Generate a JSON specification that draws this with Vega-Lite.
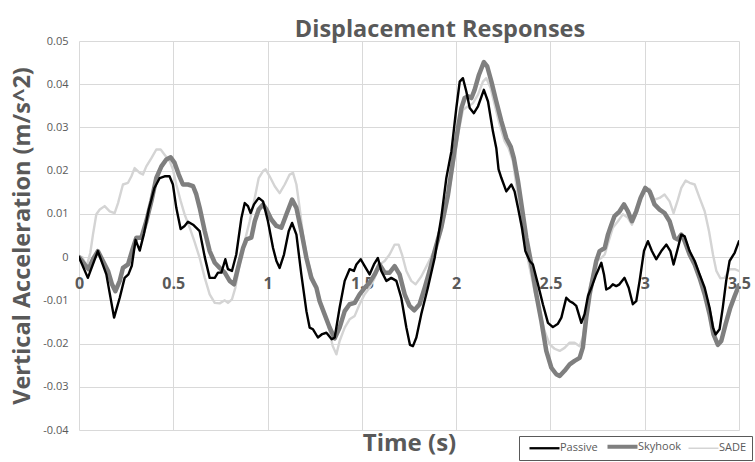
{
  "$schema": "https://vega.github.io/schema/vega-lite/v6.json",
  "width": 660,
  "height": 389,
  "autosize": "none",
  "padding": {"left": 79, "top": 41, "right": 16, "bottom": 32},
  "background": "#ffffff",
  "config": {
    "font": "Open Sans",
    "view": {"stroke": null}
  },
  "title": {
    "text": "Displacement Responses",
    "fontSize": 23.5,
    "fontWeight": "bold",
    "color": "#595959",
    "anchor": "middle",
    "dx": 31,
    "offset": -6
  },
  "data": {
    "values": [
      {"t": 0, "v": 0.0002, "s": "SADE"},
      {"t": 0.018, "v": 0, "s": "SADE"},
      {"t": 0.04, "v": -0.0022, "s": "SADE"},
      {"t": 0.06, "v": 0.001, "s": "SADE"},
      {"t": 0.074, "v": 0.0052, "s": "SADE"},
      {"t": 0.092, "v": 0.0099, "s": "SADE"},
      {"t": 0.11, "v": 0.011, "s": "SADE"},
      {"t": 0.136, "v": 0.0118, "s": "SADE"},
      {"t": 0.163, "v": 0.0106, "s": "SADE"},
      {"t": 0.189, "v": 0.0102, "s": "SADE"},
      {"t": 0.207, "v": 0.0125, "s": "SADE"},
      {"t": 0.233, "v": 0.0168, "s": "SADE"},
      {"t": 0.26, "v": 0.0172, "s": "SADE"},
      {"t": 0.278, "v": 0.0187, "s": "SADE"},
      {"t": 0.295, "v": 0.0206, "s": "SADE"},
      {"t": 0.322, "v": 0.0195, "s": "SADE"},
      {"t": 0.339, "v": 0.0191, "s": "SADE"},
      {"t": 0.357, "v": 0.021, "s": "SADE"},
      {"t": 0.384, "v": 0.0229, "s": "SADE"},
      {"t": 0.41, "v": 0.0249, "s": "SADE"},
      {"t": 0.433, "v": 0.0249, "s": "SADE"},
      {"t": 0.454, "v": 0.0237, "s": "SADE"},
      {"t": 0.481, "v": 0.0222, "s": "SADE"},
      {"t": 0.498, "v": 0.0203, "s": "SADE"},
      {"t": 0.516, "v": 0.0168, "s": "SADE"},
      {"t": 0.539, "v": 0.013, "s": "SADE"},
      {"t": 0.56, "v": 0.0099, "s": "SADE"},
      {"t": 0.587, "v": 0.0068, "s": "SADE"},
      {"t": 0.613, "v": 0.0035, "s": "SADE"},
      {"t": 0.64, "v": -0.0002, "s": "SADE"},
      {"t": 0.667, "v": -0.0048, "s": "SADE"},
      {"t": 0.693, "v": -0.0086, "s": "SADE"},
      {"t": 0.72, "v": -0.0106, "s": "SADE"},
      {"t": 0.746, "v": -0.0107, "s": "SADE"},
      {"t": 0.773, "v": -0.01, "s": "SADE"},
      {"t": 0.79, "v": -0.0106, "s": "SADE"},
      {"t": 0.811, "v": -0.0098, "s": "SADE"},
      {"t": 0.829, "v": -0.0071, "s": "SADE"},
      {"t": 0.852, "v": -0.0017, "s": "SADE"},
      {"t": 0.879, "v": 0.0037, "s": "SADE"},
      {"t": 0.905, "v": 0.0083, "s": "SADE"},
      {"t": 0.932, "v": 0.0137, "s": "SADE"},
      {"t": 0.953, "v": 0.0183, "s": "SADE"},
      {"t": 0.976, "v": 0.0199, "s": "SADE"},
      {"t": 0.99, "v": 0.0203, "s": "SADE"},
      {"t": 1.011, "v": 0.0187, "s": "SADE"},
      {"t": 1.038, "v": 0.0164, "s": "SADE"},
      {"t": 1.064, "v": 0.0148, "s": "SADE"},
      {"t": 1.091, "v": 0.0168, "s": "SADE"},
      {"t": 1.117, "v": 0.0191, "s": "SADE"},
      {"t": 1.135, "v": 0.0195, "s": "SADE"},
      {"t": 1.153, "v": 0.0168, "s": "SADE"},
      {"t": 1.17, "v": 0.0114, "s": "SADE"},
      {"t": 1.188, "v": 0.0052, "s": "SADE"},
      {"t": 1.206, "v": 0.0006, "s": "SADE"},
      {"t": 1.232, "v": -0.004, "s": "SADE"},
      {"t": 1.259, "v": -0.0071, "s": "SADE"},
      {"t": 1.285, "v": -0.0109, "s": "SADE"},
      {"t": 1.32, "v": -0.0155, "s": "SADE"},
      {"t": 1.345, "v": -0.0205, "s": "SADE"},
      {"t": 1.365, "v": -0.0225, "s": "SADE"},
      {"t": 1.382, "v": -0.0194, "s": "SADE"},
      {"t": 1.409, "v": -0.0163, "s": "SADE"},
      {"t": 1.435, "v": -0.0144, "s": "SADE"},
      {"t": 1.462, "v": -0.0136, "s": "SADE"},
      {"t": 1.488, "v": -0.0109, "s": "SADE"},
      {"t": 1.515, "v": -0.0086, "s": "SADE"},
      {"t": 1.541, "v": -0.0071, "s": "SADE"},
      {"t": 1.568, "v": -0.0048, "s": "SADE"},
      {"t": 1.594, "v": -0.0017, "s": "SADE"},
      {"t": 1.621, "v": -0.0009, "s": "SADE"},
      {"t": 1.647, "v": 0.0006, "s": "SADE"},
      {"t": 1.674, "v": 0.0029, "s": "SADE"},
      {"t": 1.695, "v": 0.0029, "s": "SADE"},
      {"t": 1.713, "v": 0.0006, "s": "SADE"},
      {"t": 1.736, "v": -0.0032, "s": "SADE"},
      {"t": 1.762, "v": -0.0055, "s": "SADE"},
      {"t": 1.785, "v": -0.0063, "s": "SADE"},
      {"t": 1.815, "v": -0.0045, "s": "SADE"},
      {"t": 1.842, "v": -0.0022, "s": "SADE"},
      {"t": 1.869, "v": 0.0002, "s": "SADE"},
      {"t": 1.895, "v": 0.0025, "s": "SADE"},
      {"t": 1.921, "v": 0.006, "s": "SADE"},
      {"t": 1.957, "v": 0.0137, "s": "SADE"},
      {"t": 1.983, "v": 0.0206, "s": "SADE"},
      {"t": 2.01, "v": 0.0283, "s": "SADE"},
      {"t": 2.036, "v": 0.0341, "s": "SADE"},
      {"t": 2.063, "v": 0.0349, "s": "SADE"},
      {"t": 2.089, "v": 0.0356, "s": "SADE"},
      {"t": 2.116, "v": 0.0376, "s": "SADE"},
      {"t": 2.142, "v": 0.0406, "s": "SADE"},
      {"t": 2.16, "v": 0.0414, "s": "SADE"},
      {"t": 2.183, "v": 0.0391, "s": "SADE"},
      {"t": 2.204, "v": 0.0353, "s": "SADE"},
      {"t": 2.231, "v": 0.0306, "s": "SADE"},
      {"t": 2.257, "v": 0.0268, "s": "SADE"},
      {"t": 2.278, "v": 0.0252, "s": "SADE"},
      {"t": 2.301, "v": 0.0222, "s": "SADE"},
      {"t": 2.324, "v": 0.0152, "s": "SADE"},
      {"t": 2.345, "v": 0.0075, "s": "SADE"},
      {"t": 2.367, "v": 0.0021, "s": "SADE"},
      {"t": 2.39, "v": -0.0025, "s": "SADE"},
      {"t": 2.416, "v": -0.0079, "s": "SADE"},
      {"t": 2.443, "v": -0.0125, "s": "SADE"},
      {"t": 2.469, "v": -0.0171, "s": "SADE"},
      {"t": 2.496, "v": -0.0202, "s": "SADE"},
      {"t": 2.522, "v": -0.0212, "s": "SADE"},
      {"t": 2.549, "v": -0.0217, "s": "SADE"},
      {"t": 2.575, "v": -0.021, "s": "SADE"},
      {"t": 2.602, "v": -0.0198, "s": "SADE"},
      {"t": 2.628, "v": -0.0198, "s": "SADE"},
      {"t": 2.655, "v": -0.0206, "s": "SADE"},
      {"t": 2.672, "v": -0.0186, "s": "SADE"},
      {"t": 2.69, "v": -0.0132, "s": "SADE"},
      {"t": 2.708, "v": -0.0071, "s": "SADE"},
      {"t": 2.725, "v": -0.004, "s": "SADE"},
      {"t": 2.743, "v": -0.0009, "s": "SADE"},
      {"t": 2.77, "v": -0.0002, "s": "SADE"},
      {"t": 2.788, "v": 0.0006, "s": "SADE"},
      {"t": 2.809, "v": 0.0037, "s": "SADE"},
      {"t": 2.831, "v": 0.0068, "s": "SADE"},
      {"t": 2.858, "v": 0.0083, "s": "SADE"},
      {"t": 2.884, "v": 0.0099, "s": "SADE"},
      {"t": 2.911, "v": 0.0091, "s": "SADE"},
      {"t": 2.932, "v": 0.0075, "s": "SADE"},
      {"t": 2.955, "v": 0.0099, "s": "SADE"},
      {"t": 2.978, "v": 0.0133, "s": "SADE"},
      {"t": 3.003, "v": 0.0156, "s": "SADE"},
      {"t": 3.026, "v": 0.0158, "s": "SADE"},
      {"t": 3.052, "v": 0.0133, "s": "SADE"},
      {"t": 3.079, "v": 0.0137, "s": "SADE"},
      {"t": 3.105, "v": 0.0145, "s": "SADE"},
      {"t": 3.132, "v": 0.0129, "s": "SADE"},
      {"t": 3.153, "v": 0.0102, "s": "SADE"},
      {"t": 3.176, "v": 0.0133, "s": "SADE"},
      {"t": 3.194, "v": 0.016, "s": "SADE"},
      {"t": 3.217, "v": 0.0177, "s": "SADE"},
      {"t": 3.238, "v": 0.0172, "s": "SADE"},
      {"t": 3.265, "v": 0.0168, "s": "SADE"},
      {"t": 3.291, "v": 0.0137, "s": "SADE"},
      {"t": 3.318, "v": 0.0106, "s": "SADE"},
      {"t": 3.341, "v": 0.006, "s": "SADE"},
      {"t": 3.362, "v": 0.0006, "s": "SADE"},
      {"t": 3.38, "v": -0.0032, "s": "SADE"},
      {"t": 3.401, "v": -0.0049, "s": "SADE"},
      {"t": 3.424, "v": -0.0048, "s": "SADE"},
      {"t": 3.45, "v": -0.0028, "s": "SADE"},
      {"t": 3.477, "v": -0.0028, "s": "SADE"},
      {"t": 3.5, "v": -0.0032, "s": "SADE"},

      {"t": 0, "v": 0, "s": "Skyhook"},
      {"t": 0.03, "v": -0.0017, "s": "Skyhook"},
      {"t": 0.051, "v": -0.0028, "s": "Skyhook"},
      {"t": 0.074, "v": -0.0005, "s": "Skyhook"},
      {"t": 0.1, "v": 0.0014, "s": "Skyhook"},
      {"t": 0.127, "v": -0.0009, "s": "Skyhook"},
      {"t": 0.154, "v": -0.0032, "s": "Skyhook"},
      {"t": 0.175, "v": -0.0063, "s": "Skyhook"},
      {"t": 0.193, "v": -0.0079, "s": "Skyhook"},
      {"t": 0.216, "v": -0.0055, "s": "Skyhook"},
      {"t": 0.233, "v": -0.0025, "s": "Skyhook"},
      {"t": 0.26, "v": -0.0017, "s": "Skyhook"},
      {"t": 0.281, "v": 0.0014, "s": "Skyhook"},
      {"t": 0.304, "v": 0.0045, "s": "Skyhook"},
      {"t": 0.331, "v": 0.0045, "s": "Skyhook"},
      {"t": 0.357, "v": 0.0083, "s": "Skyhook"},
      {"t": 0.384, "v": 0.013, "s": "Skyhook"},
      {"t": 0.41, "v": 0.0183, "s": "Skyhook"},
      {"t": 0.437, "v": 0.021, "s": "Skyhook"},
      {"t": 0.463, "v": 0.0226, "s": "Skyhook"},
      {"t": 0.486, "v": 0.0231, "s": "Skyhook"},
      {"t": 0.507, "v": 0.0218, "s": "Skyhook"},
      {"t": 0.529, "v": 0.0191, "s": "Skyhook"},
      {"t": 0.551, "v": 0.0168, "s": "Skyhook"},
      {"t": 0.578, "v": 0.0168, "s": "Skyhook"},
      {"t": 0.605, "v": 0.0164, "s": "Skyhook"},
      {"t": 0.622, "v": 0.0145, "s": "Skyhook"},
      {"t": 0.64, "v": 0.0114, "s": "Skyhook"},
      {"t": 0.667, "v": 0.006, "s": "Skyhook"},
      {"t": 0.693, "v": 0.0014, "s": "Skyhook"},
      {"t": 0.72, "v": -0.0013, "s": "Skyhook"},
      {"t": 0.746, "v": -0.0025, "s": "Skyhook"},
      {"t": 0.773, "v": -0.0036, "s": "Skyhook"},
      {"t": 0.799, "v": -0.0055, "s": "Skyhook"},
      {"t": 0.822, "v": -0.0063, "s": "Skyhook"},
      {"t": 0.843, "v": -0.0025, "s": "Skyhook"},
      {"t": 0.87, "v": 0.0021, "s": "Skyhook"},
      {"t": 0.888, "v": 0.0041, "s": "Skyhook"},
      {"t": 0.914, "v": 0.0045, "s": "Skyhook"},
      {"t": 0.932, "v": 0.0083, "s": "Skyhook"},
      {"t": 0.953, "v": 0.011, "s": "Skyhook"},
      {"t": 0.976, "v": 0.0122, "s": "Skyhook"},
      {"t": 0.994, "v": 0.011, "s": "Skyhook"},
      {"t": 1.02, "v": 0.0087, "s": "Skyhook"},
      {"t": 1.047, "v": 0.0072, "s": "Skyhook"},
      {"t": 1.073, "v": 0.0068, "s": "Skyhook"},
      {"t": 1.1, "v": 0.0099, "s": "Skyhook"},
      {"t": 1.13, "v": 0.0133, "s": "Skyhook"},
      {"t": 1.153, "v": 0.0114, "s": "Skyhook"},
      {"t": 1.179, "v": 0.006, "s": "Skyhook"},
      {"t": 1.206, "v": -0.0002, "s": "Skyhook"},
      {"t": 1.232, "v": -0.0048, "s": "Skyhook"},
      {"t": 1.259, "v": -0.0071, "s": "Skyhook"},
      {"t": 1.276, "v": -0.0102, "s": "Skyhook"},
      {"t": 1.302, "v": -0.0132, "s": "Skyhook"},
      {"t": 1.329, "v": -0.0163, "s": "Skyhook"},
      {"t": 1.356, "v": -0.0188, "s": "Skyhook"},
      {"t": 1.382, "v": -0.0163, "s": "Skyhook"},
      {"t": 1.409, "v": -0.0125, "s": "Skyhook"},
      {"t": 1.435, "v": -0.0109, "s": "Skyhook"},
      {"t": 1.462, "v": -0.0106, "s": "Skyhook"},
      {"t": 1.488, "v": -0.0086, "s": "Skyhook"},
      {"t": 1.515, "v": -0.0071, "s": "Skyhook"},
      {"t": 1.541, "v": -0.0059, "s": "Skyhook"},
      {"t": 1.568, "v": -0.004, "s": "Skyhook"},
      {"t": 1.594, "v": -0.0017, "s": "Skyhook"},
      {"t": 1.621, "v": -0.0036, "s": "Skyhook"},
      {"t": 1.647, "v": -0.0036, "s": "Skyhook"},
      {"t": 1.674, "v": -0.0021, "s": "Skyhook"},
      {"t": 1.7, "v": -0.004, "s": "Skyhook"},
      {"t": 1.727, "v": -0.0086, "s": "Skyhook"},
      {"t": 1.753, "v": -0.0113, "s": "Skyhook"},
      {"t": 1.778, "v": -0.0123, "s": "Skyhook"},
      {"t": 1.806, "v": -0.0109, "s": "Skyhook"},
      {"t": 1.833, "v": -0.0071, "s": "Skyhook"},
      {"t": 1.859, "v": -0.0032, "s": "Skyhook"},
      {"t": 1.886, "v": 0.0014, "s": "Skyhook"},
      {"t": 1.921, "v": 0.0068, "s": "Skyhook"},
      {"t": 1.957, "v": 0.0145, "s": "Skyhook"},
      {"t": 1.983, "v": 0.0222, "s": "Skyhook"},
      {"t": 2.01, "v": 0.0299, "s": "Skyhook"},
      {"t": 2.028, "v": 0.0345, "s": "Skyhook"},
      {"t": 2.045, "v": 0.0368, "s": "Skyhook"},
      {"t": 2.063, "v": 0.0372, "s": "Skyhook"},
      {"t": 2.081, "v": 0.0368, "s": "Skyhook"},
      {"t": 2.098, "v": 0.0387, "s": "Skyhook"},
      {"t": 2.121, "v": 0.0422, "s": "Skyhook"},
      {"t": 2.147, "v": 0.0451, "s": "Skyhook"},
      {"t": 2.165, "v": 0.0441, "s": "Skyhook"},
      {"t": 2.187, "v": 0.0406, "s": "Skyhook"},
      {"t": 2.213, "v": 0.036, "s": "Skyhook"},
      {"t": 2.24, "v": 0.0314, "s": "Skyhook"},
      {"t": 2.266, "v": 0.0275, "s": "Skyhook"},
      {"t": 2.289, "v": 0.0256, "s": "Skyhook"},
      {"t": 2.306, "v": 0.0229, "s": "Skyhook"},
      {"t": 2.328, "v": 0.0176, "s": "Skyhook"},
      {"t": 2.349, "v": 0.0114, "s": "Skyhook"},
      {"t": 2.372, "v": 0.0045, "s": "Skyhook"},
      {"t": 2.399, "v": -0.0017, "s": "Skyhook"},
      {"t": 2.425, "v": -0.0086, "s": "Skyhook"},
      {"t": 2.452, "v": -0.0148, "s": "Skyhook"},
      {"t": 2.478, "v": -0.0217, "s": "Skyhook"},
      {"t": 2.505, "v": -0.0256, "s": "Skyhook"},
      {"t": 2.531, "v": -0.0271, "s": "Skyhook"},
      {"t": 2.549, "v": -0.0275, "s": "Skyhook"},
      {"t": 2.575, "v": -0.0263, "s": "Skyhook"},
      {"t": 2.602, "v": -0.0248, "s": "Skyhook"},
      {"t": 2.628, "v": -0.024, "s": "Skyhook"},
      {"t": 2.655, "v": -0.0233, "s": "Skyhook"},
      {"t": 2.672, "v": -0.0209, "s": "Skyhook"},
      {"t": 2.69, "v": -0.014, "s": "Skyhook"},
      {"t": 2.708, "v": -0.0086, "s": "Skyhook"},
      {"t": 2.725, "v": -0.0048, "s": "Skyhook"},
      {"t": 2.743, "v": -0.0009, "s": "Skyhook"},
      {"t": 2.761, "v": 0.0014, "s": "Skyhook"},
      {"t": 2.788, "v": 0.0021, "s": "Skyhook"},
      {"t": 2.805, "v": 0.0052, "s": "Skyhook"},
      {"t": 2.823, "v": 0.0075, "s": "Skyhook"},
      {"t": 2.84, "v": 0.0095, "s": "Skyhook"},
      {"t": 2.867, "v": 0.0106, "s": "Skyhook"},
      {"t": 2.89, "v": 0.0122, "s": "Skyhook"},
      {"t": 2.911, "v": 0.0106, "s": "Skyhook"},
      {"t": 2.932, "v": 0.0083, "s": "Skyhook"},
      {"t": 2.955, "v": 0.0106, "s": "Skyhook"},
      {"t": 2.978, "v": 0.0137, "s": "Skyhook"},
      {"t": 3.003, "v": 0.016, "s": "Skyhook"},
      {"t": 3.026, "v": 0.0152, "s": "Skyhook"},
      {"t": 3.052, "v": 0.0122, "s": "Skyhook"},
      {"t": 3.079, "v": 0.011, "s": "Skyhook"},
      {"t": 3.105, "v": 0.0102, "s": "Skyhook"},
      {"t": 3.132, "v": 0.0083, "s": "Skyhook"},
      {"t": 3.158, "v": 0.0045, "s": "Skyhook"},
      {"t": 3.176, "v": 0.0041, "s": "Skyhook"},
      {"t": 3.194, "v": 0.0052, "s": "Skyhook"},
      {"t": 3.212, "v": 0.0037, "s": "Skyhook"},
      {"t": 3.238, "v": 0.0006, "s": "Skyhook"},
      {"t": 3.265, "v": -0.0017, "s": "Skyhook"},
      {"t": 3.291, "v": -0.0048, "s": "Skyhook"},
      {"t": 3.318, "v": -0.0086, "s": "Skyhook"},
      {"t": 3.344, "v": -0.0132, "s": "Skyhook"},
      {"t": 3.365, "v": -0.0179, "s": "Skyhook"},
      {"t": 3.388, "v": -0.0203, "s": "Skyhook"},
      {"t": 3.406, "v": -0.0194, "s": "Skyhook"},
      {"t": 3.429, "v": -0.0155, "s": "Skyhook"},
      {"t": 3.454, "v": -0.0117, "s": "Skyhook"},
      {"t": 3.477, "v": -0.009, "s": "Skyhook"},
      {"t": 3.5, "v": -0.0065, "s": "Skyhook"},

      {"t": 0, "v": 0, "s": "Passive"},
      {"t": 0.047, "v": -0.0048, "s": "Passive"},
      {"t": 0.1, "v": 0.0014, "s": "Passive"},
      {"t": 0.145, "v": -0.004, "s": "Passive"},
      {"t": 0.186, "v": -0.014, "s": "Passive"},
      {"t": 0.216, "v": -0.0094, "s": "Passive"},
      {"t": 0.242, "v": -0.0048, "s": "Passive"},
      {"t": 0.262, "v": -0.004, "s": "Passive"},
      {"t": 0.28, "v": -0.002, "s": "Passive"},
      {"t": 0.3, "v": 0.004, "s": "Passive"},
      {"t": 0.322, "v": 0.0015, "s": "Passive"},
      {"t": 0.345, "v": 0.0055, "s": "Passive"},
      {"t": 0.37, "v": 0.011, "s": "Passive"},
      {"t": 0.4, "v": 0.016, "s": "Passive"},
      {"t": 0.428, "v": 0.0183, "s": "Passive"},
      {"t": 0.454, "v": 0.0187, "s": "Passive"},
      {"t": 0.48, "v": 0.0187, "s": "Passive"},
      {"t": 0.498, "v": 0.0168, "s": "Passive"},
      {"t": 0.516, "v": 0.0114, "s": "Passive"},
      {"t": 0.539, "v": 0.0065, "s": "Passive"},
      {"t": 0.56, "v": 0.0072, "s": "Passive"},
      {"t": 0.578, "v": 0.0082, "s": "Passive"},
      {"t": 0.605, "v": 0.0075, "s": "Passive"},
      {"t": 0.64, "v": 0.006, "s": "Passive"},
      {"t": 0.667, "v": 0, "s": "Passive"},
      {"t": 0.693, "v": -0.0048, "s": "Passive"},
      {"t": 0.72, "v": -0.0048, "s": "Passive"},
      {"t": 0.737, "v": -0.0036, "s": "Passive"},
      {"t": 0.755, "v": -0.0036, "s": "Passive"},
      {"t": 0.776, "v": -0.0005, "s": "Passive"},
      {"t": 0.79, "v": -0.0028, "s": "Passive"},
      {"t": 0.811, "v": -0.0032, "s": "Passive"},
      {"t": 0.834, "v": 0.0006, "s": "Passive"},
      {"t": 0.861, "v": 0.009, "s": "Passive"},
      {"t": 0.879, "v": 0.0125, "s": "Passive"},
      {"t": 0.896, "v": 0.0118, "s": "Passive"},
      {"t": 0.91, "v": 0.0102, "s": "Passive"},
      {"t": 0.928, "v": 0.0122, "s": "Passive"},
      {"t": 0.953, "v": 0.0137, "s": "Passive"},
      {"t": 0.976, "v": 0.0129, "s": "Passive"},
      {"t": 1.002, "v": 0.0083, "s": "Passive"},
      {"t": 1.029, "v": 0.0021, "s": "Passive"},
      {"t": 1.047, "v": -0.0009, "s": "Passive"},
      {"t": 1.064, "v": -0.0025, "s": "Passive"},
      {"t": 1.087, "v": 0.0006, "s": "Passive"},
      {"t": 1.112, "v": 0.006, "s": "Passive"},
      {"t": 1.13, "v": 0.0079, "s": "Passive"},
      {"t": 1.153, "v": 0.0052, "s": "Passive"},
      {"t": 1.179, "v": -0.004, "s": "Passive"},
      {"t": 1.206, "v": -0.0125, "s": "Passive"},
      {"t": 1.223, "v": -0.0163, "s": "Passive"},
      {"t": 1.241, "v": -0.0167, "s": "Passive"},
      {"t": 1.267, "v": -0.0186, "s": "Passive"},
      {"t": 1.29, "v": -0.0178, "s": "Passive"},
      {"t": 1.312, "v": -0.0175, "s": "Passive"},
      {"t": 1.34, "v": -0.019, "s": "Passive"},
      {"t": 1.356, "v": -0.0186, "s": "Passive"},
      {"t": 1.382, "v": -0.0117, "s": "Passive"},
      {"t": 1.409, "v": -0.0055, "s": "Passive"},
      {"t": 1.435, "v": -0.0028, "s": "Passive"},
      {"t": 1.458, "v": -0.0032, "s": "Passive"},
      {"t": 1.471, "v": -0.0017, "s": "Passive"},
      {"t": 1.494, "v": -0.0005, "s": "Passive"},
      {"t": 1.515, "v": -0.0021, "s": "Passive"},
      {"t": 1.541, "v": -0.004, "s": "Passive"},
      {"t": 1.564, "v": -0.0017, "s": "Passive"},
      {"t": 1.585, "v": -0.0002, "s": "Passive"},
      {"t": 1.603, "v": -0.0032, "s": "Passive"},
      {"t": 1.63, "v": -0.0055, "s": "Passive"},
      {"t": 1.656, "v": -0.0048, "s": "Passive"},
      {"t": 1.683, "v": -0.0055, "s": "Passive"},
      {"t": 1.709, "v": -0.0094, "s": "Passive"},
      {"t": 1.736, "v": -0.0163, "s": "Passive"},
      {"t": 1.755, "v": -0.0203, "s": "Passive"},
      {"t": 1.771, "v": -0.0206, "s": "Passive"},
      {"t": 1.789, "v": -0.0186, "s": "Passive"},
      {"t": 1.815, "v": -0.0132, "s": "Passive"},
      {"t": 1.85, "v": -0.0071, "s": "Passive"},
      {"t": 1.886, "v": -0.0002, "s": "Passive"},
      {"t": 1.921, "v": 0.0091, "s": "Passive"},
      {"t": 1.948, "v": 0.0183, "s": "Passive"},
      {"t": 1.975, "v": 0.0245, "s": "Passive"},
      {"t": 2.001, "v": 0.0345, "s": "Passive"},
      {"t": 2.019, "v": 0.0406, "s": "Passive"},
      {"t": 2.036, "v": 0.0414, "s": "Passive"},
      {"t": 2.054, "v": 0.0383, "s": "Passive"},
      {"t": 2.072, "v": 0.0345, "s": "Passive"},
      {"t": 2.094, "v": 0.0333, "s": "Passive"},
      {"t": 2.116, "v": 0.0349, "s": "Passive"},
      {"t": 2.147, "v": 0.0387, "s": "Passive"},
      {"t": 2.169, "v": 0.036, "s": "Passive"},
      {"t": 2.195, "v": 0.0291, "s": "Passive"},
      {"t": 2.213, "v": 0.0252, "s": "Passive"},
      {"t": 2.225, "v": 0.0203, "s": "Passive"},
      {"t": 2.24, "v": 0.0183, "s": "Passive"},
      {"t": 2.266, "v": 0.0152, "s": "Passive"},
      {"t": 2.293, "v": 0.0168, "s": "Passive"},
      {"t": 2.31, "v": 0.0152, "s": "Passive"},
      {"t": 2.328, "v": 0.0114, "s": "Passive"},
      {"t": 2.349, "v": 0.0068, "s": "Passive"},
      {"t": 2.367, "v": 0.0014, "s": "Passive"},
      {"t": 2.39, "v": -0.0009, "s": "Passive"},
      {"t": 2.407, "v": -0.0017, "s": "Passive"},
      {"t": 2.434, "v": -0.0063, "s": "Passive"},
      {"t": 2.46, "v": -0.0109, "s": "Passive"},
      {"t": 2.487, "v": -0.0152, "s": "Passive"},
      {"t": 2.513, "v": -0.0162, "s": "Passive"},
      {"t": 2.54, "v": -0.0154, "s": "Passive"},
      {"t": 2.558, "v": -0.014, "s": "Passive"},
      {"t": 2.584, "v": -0.0094, "s": "Passive"},
      {"t": 2.602, "v": -0.0102, "s": "Passive"},
      {"t": 2.619, "v": -0.0106, "s": "Passive"},
      {"t": 2.637, "v": -0.0113, "s": "Passive"},
      {"t": 2.664, "v": -0.0152, "s": "Passive"},
      {"t": 2.681, "v": -0.0132, "s": "Passive"},
      {"t": 2.699, "v": -0.009, "s": "Passive"},
      {"t": 2.717, "v": -0.0071, "s": "Passive"},
      {"t": 2.743, "v": -0.004, "s": "Passive"},
      {"t": 2.77, "v": -0.0013, "s": "Passive"},
      {"t": 2.784, "v": -0.004, "s": "Passive"},
      {"t": 2.796, "v": -0.0075, "s": "Passive"},
      {"t": 2.814, "v": -0.0071, "s": "Passive"},
      {"t": 2.831, "v": -0.0063, "s": "Passive"},
      {"t": 2.849, "v": -0.0067, "s": "Passive"},
      {"t": 2.866, "v": -0.0063, "s": "Passive"},
      {"t": 2.893, "v": -0.0048, "s": "Passive"},
      {"t": 2.915, "v": -0.0071, "s": "Passive"},
      {"t": 2.937, "v": -0.0109, "s": "Passive"},
      {"t": 2.955, "v": -0.0102, "s": "Passive"},
      {"t": 2.973, "v": -0.0055, "s": "Passive"},
      {"t": 2.996, "v": 0.0014, "s": "Passive"},
      {"t": 3.017, "v": 0.0037, "s": "Passive"},
      {"t": 3.038, "v": 0.0014, "s": "Passive"},
      {"t": 3.061, "v": -0.0005, "s": "Passive"},
      {"t": 3.088, "v": 0.0014, "s": "Passive"},
      {"t": 3.115, "v": 0.0029, "s": "Passive"},
      {"t": 3.136, "v": 0.0014, "s": "Passive"},
      {"t": 3.153, "v": -0.0017, "s": "Passive"},
      {"t": 3.176, "v": 0.0021, "s": "Passive"},
      {"t": 3.194, "v": 0.0052, "s": "Passive"},
      {"t": 3.212, "v": 0.0048, "s": "Passive"},
      {"t": 3.238, "v": 0.0014, "s": "Passive"},
      {"t": 3.265, "v": -0.0009, "s": "Passive"},
      {"t": 3.291, "v": -0.004, "s": "Passive"},
      {"t": 3.318, "v": -0.0071, "s": "Passive"},
      {"t": 3.344, "v": -0.0117, "s": "Passive"},
      {"t": 3.362, "v": -0.0163, "s": "Passive"},
      {"t": 3.376, "v": -0.0179, "s": "Passive"},
      {"t": 3.397, "v": -0.0167, "s": "Passive"},
      {"t": 3.414, "v": -0.0117, "s": "Passive"},
      {"t": 3.432, "v": -0.0055, "s": "Passive"},
      {"t": 3.45, "v": -0.0009, "s": "Passive"},
      {"t": 3.477, "v": 0.001, "s": "Passive"},
      {"t": 3.5, "v": 0.0037, "s": "Passive"}
    ]
  },
  "mark": {"type": "line", "strokeJoin": "round", "strokeCap": "round", "clip": true},
  "encoding": {
    "x": {
      "field": "t",
      "type": "quantitative",
      "scale": {"domain": [0, 3.5], "nice": false, "zero": false},
      "axis": {
        "title": "Time (s)",
        "values": [0, 0.5, 1, 1.5, 2, 2.5, 3, 3.5],
        "labelExpr": "datum.value == 0 ? '0' : format(datum.value, '~g')",
        "offset": -174,
        "domain": false,
        "ticks": false,
        "grid": true,
        "gridColor": "#d9d9d9",
        "gridWidth": 1,
        "labelFlush": false,
        "labelFont": "Open Sans",
        "labelFontSize": 16,
        "labelFontWeight": "bold",
        "labelColor": "#595959",
        "labelPadding": 19,
        "titleFont": "Open Sans",
        "titleFontSize": 24,
        "titleFontWeight": "bold",
        "titleColor": "#595959",
        "titlePadding": 140
      }
    },
    "y": {
      "field": "v",
      "type": "quantitative",
      "scale": {"domain": [-0.04, 0.05], "nice": false, "zero": false},
      "axis": {
        "title": "Vertical Acceleration (m/s^2)",
        "values": [-0.04, -0.03, -0.02, -0.01, 0, 0.01, 0.02, 0.03, 0.04, 0.05],
        "labelExpr": "datum.value == 0 ? '0' : (datum.value < 0 ? '-' + format(-datum.value, '.2f') : format(datum.value, '.2f'))",
        "domain": false,
        "ticks": false,
        "grid": true,
        "gridColor": "#d9d9d9",
        "gridWidth": 1,
        "labelFont": "Open Sans",
        "labelFontSize": 11,
        "labelColor": "#595959",
        "labelPadding": 11,
        "titleFont": "Open Sans",
        "titleFontSize": 23.5,
        "titleFontWeight": "bold",
        "titleColor": "#595959",
        "titleAngle": -90,
        "titleAlign": "center",
        "titleBaseline": "middle",
        "titleX": -57,
        "titleY": 194.5
      }
    },
    "color": {
      "field": "s",
      "type": "nominal",
      "scale": {"domain": ["Passive", "Skyhook", "SADE"], "range": ["#000000", "#7f7f7f", "#d4d4d4"]},
      "legend": {
        "title": null,
        "orient": "none",
        "legendX": 440,
        "legendY": 395,
        "direction": "horizontal",
        "symbolType": "M0,0H5",
        "symbolSize": 144,
        "labelFont": "Open Sans",
        "labelFontSize": 11,
        "labelColor": "#595959",
        "strokeColor": "#595959",
        "padding": 5,
        "columnPadding": 1,
        "labelOffset": 25,
        "encode": {
          "symbols": {
            "update": {
              "strokeWidth": {"signal": "datum.value === 'Skyhook' ? 4 : (datum.value === 'Passive' ? 2.3 : 1.5)"}
            }
          }
        }
      }
    },
    "strokeWidth": {
      "condition": {"test": "datum.s === 'Skyhook'", "value": 4.5},
      "value": 2.4
    },
    "order": {"field": "t", "type": "quantitative"}
  }
}
